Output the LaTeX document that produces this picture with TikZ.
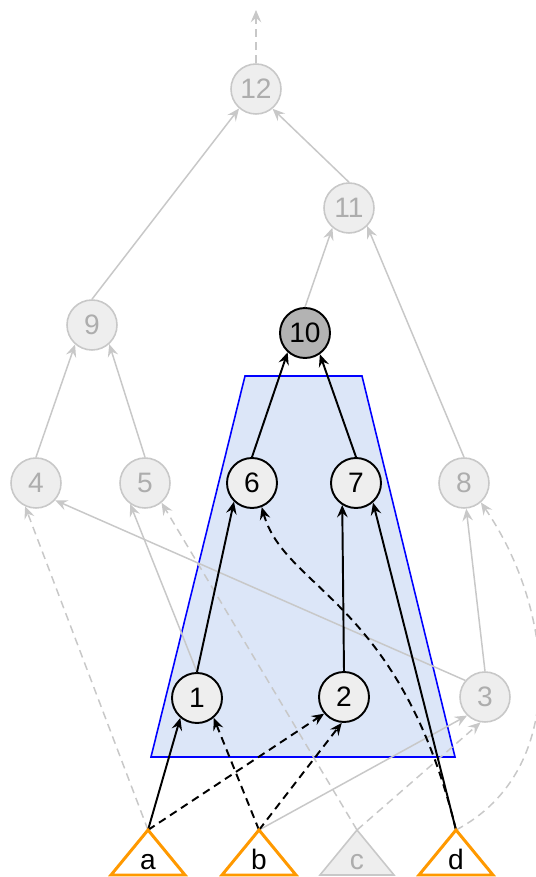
\documentclass[tikz,border=0pt]{standalone}
\usepackage{fontspec}
\setmainfont{Liberation Sans}
\usetikzlibrary{arrows.meta}

\definecolor{faded}{HTML}{C8C8C8}
\definecolor{fadedtext}{HTML}{ADADAD}
\definecolor{opfill}{HTML}{EEEEEE}
\definecolor{rootfill}{HTML}{B3B3B3}
\definecolor{leafline}{HTML}{FF9900}
\definecolor{groupfill}{HTML}{DCE6F8}

\begin{document}
\begin{tikzpicture}[
  every node/.style={font=\fontsize{16}{19}\selectfont},
  op/.style={circle, draw, line width=1.1pt, fill=opfill, minimum size=1cm, inner sep=0pt},
  dim/.style={op, draw=faded, line width=0.9pt, text=fadedtext},
  arrowtip/.style={-{Stealth[length=7pt,width=6pt,inset=2.5pt]}},
  link/.style={arrowtip, line width=1.1pt},
  ghost/.style={arrowtip, line width=0.85pt, faded},
  dashline/.style={dash pattern=on 4.5pt off 3pt},
  leaf/.style={draw=leafline, line width=1.7pt, fill=white}
]
\useasboundingbox (0,0) rectangle (10.72,17.54);

% the fused group
\draw [blue, line width=0.9pt, fill=groupfill] (4.90,10.02) -- (7.24,10.02) -- (9.10,2.40) -- (3.02,2.40) -- cycle;

% operations
\node [dim] (n12) at (5.12, 15.76) {12};
\node [dim] (n11) at (6.98, 13.38) {11};
\node [dim] (n9) at (1.84, 11.04) {9};
\node [op, fill=rootfill] (n10) at (6.10, 10.88) {10};
\node [dim] (n4) at (0.72, 7.88) {4};
\node [dim] (n5) at (2.90, 7.88) {5};
\node [op] (n6) at (5.04, 7.88) {6};
\node [op] (n7) at (7.12, 7.88) {7};
\node [dim] (n8) at (9.28, 7.88) {8};
\node [op] (n1) at (3.94, 3.58) {1};
\node [op] (n2) at (6.88, 3.60) {2};
\node [dim] (n3) at (9.70, 3.60) {3};
\coordinate (top) at (5.12, 17.34);

% inputs
\coordinate (a) at (2.96, 0.94);
\coordinate (b) at (5.18, 0.94);
\coordinate (c) at (7.14, 0.94);
\coordinate (d) at (9.12, 0.94);

% faded edges
\draw [ghost, dashline] (n12.north) -- (top);
\draw [ghost] (n9.north) -- (n12.-131);
\draw [ghost] (n11.north) -- (n12.-50);
\draw [ghost] (n10.north) -- (n11.-130);
\draw [ghost] (n8.north) -- (n11.-45);
\draw [ghost] (n4.north) -- (n9.-131);
\draw [ghost] (n5.north) -- (n9.-48);
\draw [ghost] (n3.north) -- (n8.-85);
\draw [ghost] (n3.140) -- (n4.-42);
\draw [ghost] (n1.north) -- (n5.-125);
\draw [ghost] (b) -- (n3.-134);
\draw [ghost, dashline] (c) -- (n3.-100);
\draw [ghost, dashline] (c) -- (n5.-50);
\draw [ghost, dashline] (a) -- (n4.-115);
\draw [ghost, dashline] (d) .. controls (11.40,2.14) and (11.10,5.34) .. (n8.-49);

% edges of the group
\draw [link] (n6.north) -- (n10.-132);
\draw [link] (n7.north) -- (n10.-55);
\draw [link] (n1.north) -- (n6.-134);
\draw [link] (n2.north) -- (n7.-122);
\draw [link] (a) -- (n1.-130);
\draw [link, dashline] (b) -- (n1.-50);
\draw [link, dashline] (a) -- (n2.-140);
\draw [link, dashline] (b) -- (n2.-95);
\draw [link] (d) -- (n7.-49);
\draw [link, dashline] (d) .. controls (8.00,5.54) and (5.70,5.74) .. (n6.-68);

% input triangles
\foreach \x in {2.96, 5.18, 9.12}
  \draw [leaf] (\x,0.94) -- (\x+0.74,0.04) -- (\x-0.74,0.04) -- cycle;
\draw [leaf, draw=faded, line width=0.9pt, fill=opfill] (7.14,0.94) -- (7.88,0.04) -- (6.40,0.04) -- cycle;
\node [anchor=base] (la) at (2.96, 0.14) {a};
\node [anchor=base] (lb) at (5.18, 0.14) {b};
\node [anchor=base, text=fadedtext] (lc) at (7.14, 0.14) {c};
\node [anchor=base] (ld) at (9.12, 0.14) {d};
\end{tikzpicture}
\end{document}
